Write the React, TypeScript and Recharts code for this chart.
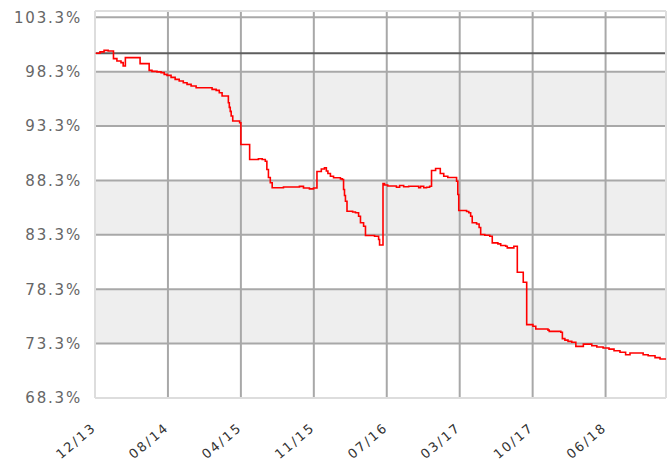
import { LineChart, Line, XAxis, YAxis, ReferenceLine, ReferenceArea, CartesianGrid } from "recharts";

// days since the first tick (12/13) and index value in %
const DAYS = [
  2, 16, 29, 42, 59, 70, 83, 90, 97, 144, 173, 182, 198, 211, 221, 230, 243, 256, 269, 282,
  294, 307, 323, 374, 387, 397, 406, 426, 429, 432, 435, 440, 462, 466, 494, 522, 534, 544, 549, 554,
  560, 566, 602, 653, 666, 685, 698, 709, 723, 733, 739, 744, 752, 762, 784, 790, 794, 797, 800, 805,
  823, 832, 842, 848, 858, 864, 893, 906, 909, 920, 925, 935, 963, 973, 986, 1002, 1034, 1040, 1050, 1059,
  1069, 1075, 1088, 1103, 1114, 1127, 1155, 1159, 1162, 1187, 1194, 1200, 1205, 1219, 1227, 1232, 1245, 1261, 1269, 1287,
  1296, 1312, 1317, 1338, 1349, 1368, 1379, 1399, 1408, 1447, 1451, 1488, 1493, 1501, 1511, 1523, 1536, 1560, 1587, 1603,
  1623, 1642, 1658, 1677, 1695, 1709, 1751, 1767, 1789, 1805, 1824,
];
const VALUES = [
  100.0, 100.12, 100.26, 100.2, 99.5, 99.28, 99.13, 98.82, 99.59, 99.04, 98.42, 98.33, 98.28, 98.21, 98.05, 97.96, 97.78, 97.59, 97.45, 97.29,
  97.13, 96.98, 96.83, 96.67, 96.58, 96.37, 96.06, 95.45, 95.02, 94.65, 94.22, 93.76, 93.61, 91.61, 90.23, 90.3, 90.23, 90.07, 89.31, 88.57,
  88.09, 87.63, 87.7, 87.76, 87.61, 87.53, 87.61, 89.13, 89.36, 89.47, 89.17, 88.94, 88.69, 88.55, 88.45, 88.39, 87.47, 86.92, 86.39, 85.47,
  85.4, 85.33, 85.01, 84.41, 84.09, 83.24, 83.17, 82.87, 82.36, 88.02, 87.88, 87.79, 87.68, 87.84, 87.72, 87.77, 87.63, 87.77, 87.63, 87.68,
  87.77, 89.22, 89.4, 88.94, 88.69, 88.57, 88.23, 87.01, 85.54, 85.45, 85.33, 85.01, 84.41, 84.3, 83.97, 83.33, 83.26, 83.17, 82.56, 82.47,
  82.32, 82.25, 82.1, 82.25, 79.86, 78.94, 75.05, 74.89, 74.65, 74.54, 74.43, 74.34, 73.76, 73.62, 73.51, 73.42, 73.05, 73.25, 73.11, 72.99,
  72.9, 72.79, 72.65, 72.51, 72.28, 72.44, 72.28, 72.19, 72.01, 71.89, 71.89,
];

const X_TICK_DAYS = [0, 233, 466, 699, 932, 1165, 1398, 1631];
const X_TICK_LABELS = ["12/13", "08/14", "04/15", "11/15", "07/16", "03/17", "10/17", "06/18"];
const Y_TICKS = [68.3, 73.3, 78.3, 83.3, 88.3, 93.3, 98.3, 103.3];
// shaded rows (low, high)
const GRAY_LOW = [73.3, 83.3, 93.3];
const GRAY_HIGH = [78.3, 88.3, 98.3];

const X_MAX = 1824;
const Y_MIN = 68.3;
const Y_MAX = 103.88;
const FONT = "'DejaVu Sans', Verdana, sans-serif";

const data = DAYS.map((d, i) => ({ day: d, value: VALUES[i] }));

const XTick = ({ x, y, payload }: any) => {
  const label = X_TICK_LABELS[X_TICK_DAYS.indexOf(payload.value)];
  const ax = x + 2;
  const ay = y + 31;
  return (
    <text x={ax} y={ay} transform={`rotate(-40 ${ax} ${ay})`} textAnchor="end"
      fontSize={13} letterSpacing={2} fill="#333" fontFamily={FONT}>
      {label}
    </text>
  );
};

const BandShape = (p: any) => (
  <rect x={p.x} y={p.y} width={p.width} height={p.height} fill="#eeeeee" stroke="none" />
);

export default function App() {
  return (
    <div style={{ position: "absolute", left: 0, top: 0, width: 672, height: 465, background: "#fff" }}>
      <LineChart width={672} height={465} data={data} margin={{ top: 11, right: 6, left: 0, bottom: 0 }}>
        <CartesianGrid stroke="none" fill="#ffffff" fillOpacity={1} />
        <XAxis dataKey="day" type="number" domain={[0, X_MAX]} ticks={X_TICK_DAYS}
          axisLine={false} tickLine={false} tickSize={0} tickMargin={0} height={67}
          tick={<XTick />} interval={0} allowDataOverflow />
        <YAxis type="number" domain={[Y_MIN, Y_MAX]} ticks={Y_TICKS} width={95}
          axisLine={false} tickLine={false} tickSize={0} tickMargin={13} interval={0}
          allowDataOverflow
          tickFormatter={(v: number) => `${v.toFixed(1)}%`}
          tick={{ fontSize: 15, fill: "#666", fontFamily: FONT, letterSpacing: 1.8 }} />
        {GRAY_LOW.map((lo, i) => (
          <ReferenceArea key={"b" + lo} y1={lo} y2={GRAY_HIGH[i]} ifOverflow="visible" shape={BandShape} />
        ))}
        {Y_TICKS.slice(1).map(t => (
          <ReferenceLine key={"h" + t} y={t} stroke="#a8a8a8" strokeWidth={2} />
        ))}
        {X_TICK_DAYS.slice(1).map(t => (
          <ReferenceLine key={"v" + t} x={t} stroke="#a8a8a8" strokeWidth={2} />
        ))}
        <ReferenceLine y={100} stroke="#5e5e5e" strokeWidth={2} />
        <ReferenceLine x={0} stroke="#dddddd" strokeWidth={2} />
        <ReferenceLine x={X_MAX} stroke="#dddddd" strokeWidth={2} />
        <ReferenceLine y={Y_MIN} stroke="#dddddd" strokeWidth={2} />
        <ReferenceLine y={Y_MAX} stroke="#dddddd" strokeWidth={2} />
        <Line dataKey="value" type="stepAfter" stroke="#ff0000" strokeWidth={1.6}
          dot={false} isAnimationActive={false} />
      </LineChart>
    </div>
  );
}
